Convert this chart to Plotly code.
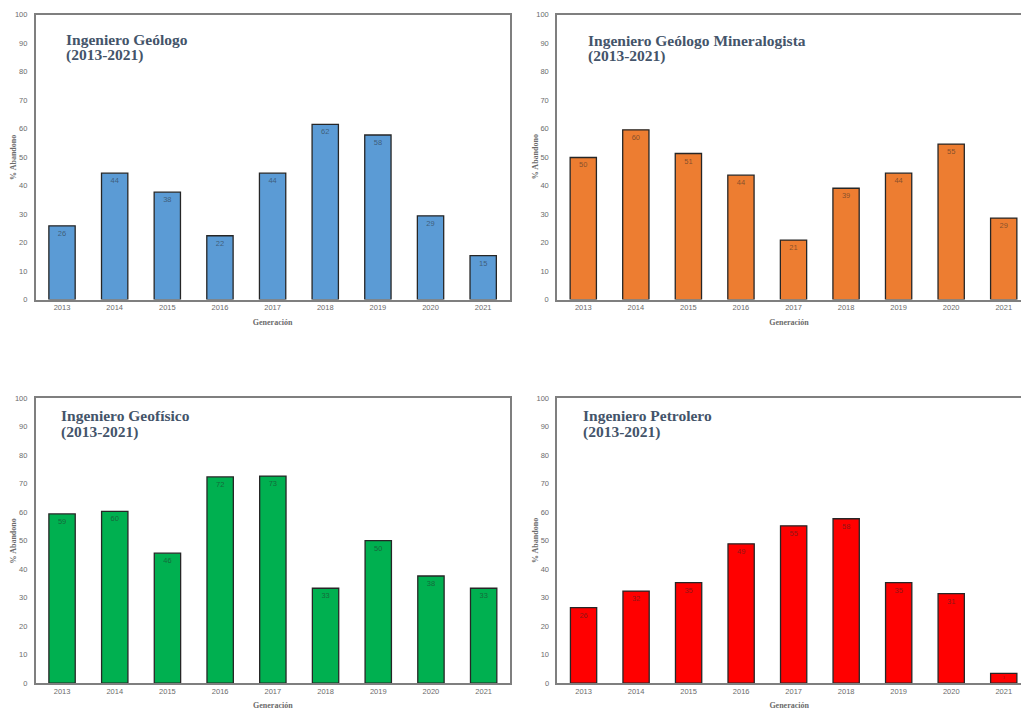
import plotly.graph_objects as go

years = ["2013", "2014", "2015", "2016", "2017", "2018", "2019", "2020", "2021"]
geologo = [25.9, 44.4, 37.7, 22.4, 44.4, 61.5, 57.8, 29.4, 15.4]
mineralogista = [49.9, 59.6, 51.3, 43.7, 20.9, 39.1, 44.4, 54.6, 28.6]
geofisico = [59.4, 60.3, 45.6, 72.4, 72.7, 33.3, 50.0, 37.6, 33.3]
petrolero = [26.5, 32.3, 35.3, 48.9, 55.2, 57.7, 35.3, 31.4, 3.4]

titles = ["Ingeniero Geólogo", "Ingeniero Geólogo Mineralogista",
          "Ingeniero Geofísico", "Ingeniero Petrolero"]
subtitle = "(2013-2021)"
colors = ["#5B9BD5", "#ED7D31", "#00B050", "#FF0000"]
series = [geologo, mineralogista, geofisico, petrolero]

W, H = 1021, 717
# panel pixel boxes: (left, right, top, bottom)
boxes = [(35.7, 509.5, 11, 299.3), (557, 1030, 11, 299.3),
         (35.7, 510, 399.3, 687.7), (557.3, 1030, 399.3, 687.7)]
title_pos = [(64, 39), (585.7, 40), (59, 420), (580.7, 420)]

fig = go.Figure()
layout = dict(width=W, height=H, margin=dict(l=0, r=0, t=0, b=0),
              paper_bgcolor="white", plot_bgcolor="white", showlegend=False,
              bargap=0.5)
annotations = []
serif = "Liberation Serif"
tickfont = dict(family="Liberation Sans", size=7.5, color="#6b6b6b")

for i, (vals, col, box) in enumerate(zip(series, colors, boxes)):
    n = "" if i == 0 else str(i + 1)
    l, r, t, b = box
    rr = min(r, W)
    step = (r - l) / len(years)
    xmax = -0.5 + (rr - l) / step
    fig.add_trace(go.Bar(
        x=list(range(len(years))), y=vals, xaxis="x" + n, yaxis="y" + n,
        marker=dict(color=col, line=dict(color="#262626", width=1.3)),
        text=[f"{v:.0f}" for v in vals], textposition="inside",
        insidetextanchor="end", textangle=0,
        textfont=dict(family="Liberation Sans", size=7.5, color="rgba(40,40,40,0.55)"),
        cliponaxis=False, width=0.5))
    clipped = r > W
    layout["xaxis" + n] = dict(
        domain=[l / W, rr / W], anchor="y" + n, range=[-0.5, xmax],
        tickmode="array", tickvals=list(range(len(years))), ticktext=years,
        tickfont=tickfont, showline=True, linecolor="#7f7f7f", linewidth=1.5,
        mirror=True, ticks="", showgrid=False, zeroline=False, fixedrange=True,
        title=dict(text="<b>Generación</b>", font=dict(family=serif, size=8, color="#6b6b6b"),
                   standoff=8))
    layout["yaxis" + n] = dict(
        domain=[(H - b) / H, (H - t) / H], anchor="x" + n, range=[0, 100],
        tickmode="linear", tick0=0, dtick=10, tickfont=tickfont,
        showline=True, linecolor="#7f7f7f", linewidth=1.5,
        mirror=(not clipped), ticks="", showgrid=False, zeroline=False,
        ticklabelstandoff=5)
    # y-axis title as rotated annotation
    annotations.append(dict(
        x=(l - 22) / W, y=(H - (t + b) / 2) / H, xref="paper", yref="paper",
        xanchor="center", yanchor="middle", textangle=-90, showarrow=False,
        text="<b>% Abandono</b>", font=dict(family=serif, size=8, color="#6b6b6b")))
    tx, ty = title_pos[i]
    for k, line in enumerate([titles[i], subtitle]):
        annotations.append(dict(
            x=tx / W, y=(H - ty + 3 - 16 * k) / H, xref="paper", yref="paper",
            xanchor="left", yanchor="middle", align="left", showarrow=False,
            text=f"<b>{line}</b>",
            font=dict(family=serif, size=15.5, color="#44546A")))

layout["annotations"] = annotations
fig.update_layout(**layout)
fig.write_html("out.html")
